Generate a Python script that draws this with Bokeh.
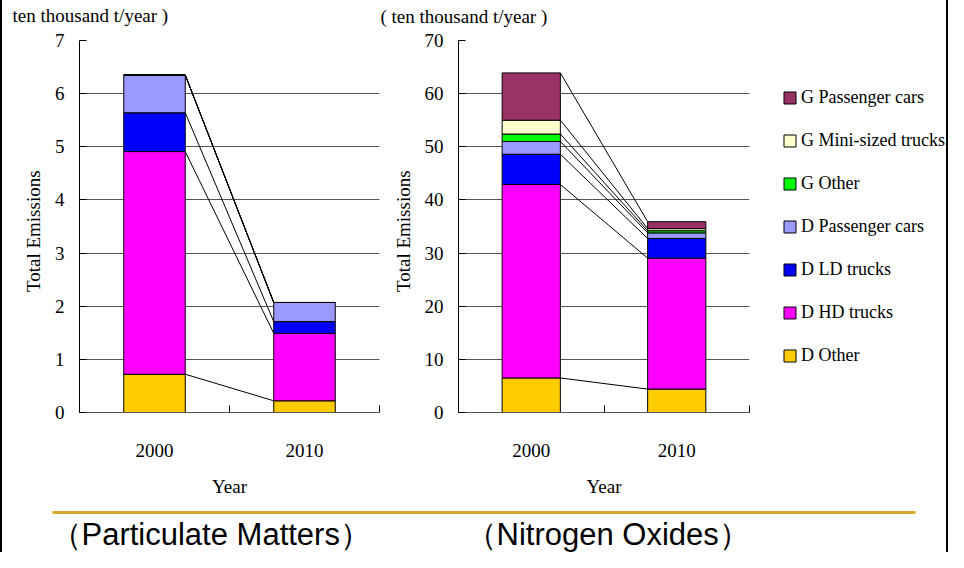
import numpy as np
from bokeh.plotting import figure
from bokeh.models import (Range1d, FixedTicker, Label, Legend, LegendItem,
                          BoxAnnotation, ColumnDataSource)
from bokeh.layouts import row, column
from bokeh.embed import file_html
from bokeh.resources import INLINE

# ---------------- data ----------------
years = ["2000", "2010"]
series = ["D Other", "D HD trucks", "D LD trucks", "D Passenger cars",
          "G Other", "G Mini-sized trucks", "G Passenger cars"]
colors = ["#FFCC00", "#FF00FF", "#0000FF", "#9999FF",
          "#00FF00", "#FFFFCC", "#993366"]

pm_2000 = [0.72, 4.19, 0.73, 0.71, 0.0, 0.0, 0.0]
pm_2010 = [0.22, 1.27, 0.22, 0.36, 0.0, 0.0, 0.0]
nox_2000 = [6.5, 36.4, 5.7, 2.4, 1.4, 2.6, 8.9]
nox_2010 = [4.4, 24.65, 3.7, 1.05, 0.4, 0.4, 1.3]

pm_ticks = [0, 1, 2, 3, 4, 5, 6, 7]
nox_ticks = [0, 10, 20, 30, 40, 50, 60, 70]

unit_left = "ten thousand t/year )"
unit_right = "( ten thousand t/year )"
y_title = "Total Emissions"
x_title = "Year"
title_pm = "（Particulate Matters）"
title_nox = "（Nitrogen Oxides）"

SERIF = "Liberation Serif"
FS = "19px"
MB_TOP, FRAME_H, MB_BOT = 10, 374, 85
CH = MB_TOP + FRAME_H + MB_BOT  # chart figure height


def blank(width, height, xmax, ymax, **kw):
    args = dict(min_border_left=0, min_border_right=0, min_border_top=0,
                min_border_bottom=0)
    args.update(kw)
    f = figure(width=width, height=height, output_backend="svg",
               toolbar_location=None, x_axis_type=None, y_axis_type=None,
               x_range=Range1d(0, xmax), y_range=Range1d(0, ymax), **args)
    f.grid.grid_line_color = None
    f.outline_line_color = None
    f.background_fill_color = "white"
    f.border_fill_color = "white"
    return f


def stack_source(v2000, v2010):
    data = {"x": [i + 0.5 for i in range(len(years))]}
    for s, a, b in zip(series, v2000, v2010):
        data[s] = [a, b]
    return ColumnDataSource(data)


def make_chart(v2000, v2010, ticks, bar_w, width, mb_left, mb_right):
    n = len(years)
    xs = [i + 0.5 for i in range(n)]
    p = figure(width=width, height=CH, output_backend="svg",
               toolbar_location=None, x_range=Range1d(0, n),
               y_range=Range1d(ticks[0], ticks[-1]),
               min_border_left=mb_left, min_border_right=mb_right,
               min_border_top=MB_TOP, min_border_bottom=MB_BOT)
    p.outline_line_color = None
    p.background_fill_color = "white"
    p.border_fill_color = "white"

    src = stack_source(v2000, v2010)
    p.vbar_stack(series, x="x", width=bar_w, source=src, color=colors,
                 line_color="black", line_width=1)

    # connecting lines between stacked tops
    c0 = np.cumsum(v2000)
    c1 = np.cumsum(v2010)
    p.segment(x0=[xs[0] + bar_w / 2] * len(series), y0=list(c0),
              x1=[xs[1] - bar_w / 2] * len(series), y1=list(c1),
              line_color="black", line_width=1)

    xa = p.xaxis[0]
    xa.ticker = FixedTicker(ticks=xs, minor_ticks=list(range(n + 1)))
    xa.major_label_overrides = {x: y for x, y in zip(xs, years)}
    xa.major_tick_line_color = None
    xa.minor_tick_in = 7
    xa.minor_tick_out = 0
    xa.minor_tick_line_color = "black"
    xa.axis_line_color = "#555555"
    xa.major_label_standoff = 25
    xa.major_label_text_font = SERIF
    xa.major_label_text_font_size = FS
    xa.major_label_text_color = "black"
    xa.axis_label = x_title
    xa.axis_label_text_font = SERIF
    xa.axis_label_text_font_size = FS
    xa.axis_label_text_font_style = "normal"
    xa.axis_label_text_color = "black"
    xa.axis_label_standoff = 16

    ya = p.yaxis[0]
    ya.ticker = FixedTicker(ticks=ticks)
    ya.major_tick_in = 7
    ya.major_tick_out = 0
    ya.minor_tick_line_color = None
    ya.axis_line_color = "black"
    ya.major_tick_line_color = "black"
    ya.major_label_standoff = 15
    ya.major_label_text_font = SERIF
    ya.major_label_text_font_size = FS
    ya.major_label_text_color = "black"
    ya.axis_label = y_title + "\u00a0" * 2
    ya.axis_label_text_font = SERIF
    ya.axis_label_text_font_size = FS
    ya.axis_label_text_font_style = "normal"
    ya.axis_label_text_color = "black"
    ya.axis_label_standoff = 8

    p.xgrid.grid_line_color = None
    p.ygrid.grid_line_color = "#555555"
    p.ygrid.grid_line_width = 1
    p.ygrid.ticker = FixedTicker(ticks=ticks)
    return p


# header strip with the unit labels
pH = blank(944, 30, 944, 30)
pH.add_layout(Label(x=10, y=15, text=unit_left, text_font=SERIF,
                    text_font_size=FS, text_color="black",
                    text_baseline="middle", text_align="left"))
pH.add_layout(Label(x=378, y=14, text=unit_right, text_font=SERIF,
                    text_font_size=FS, text_color="black",
                    text_baseline="middle", text_align="left"))

pA = make_chart(pm_2000, pm_2010, pm_ticks, 0.41, 383, 77, 6)
pB = make_chart(nox_2000, nox_2010, nox_ticks, 0.40, 370, 73, 6)

# legend panel (hidden copies of the NOx stacks feed the legend swatches)
pL = blank(191, CH, 2, 70, min_border_top=MB_TOP, min_border_bottom=MB_BOT)
rl = pL.vbar_stack(series, x="x", width=0.4,
                   source=stack_source(nox_2000, nox_2010), color=colors,
                   line_color="black", line_width=1)
for r in rl:
    r.visible = False
items = [LegendItem(label=s, renderers=[r]) for s, r in zip(series, rl)][::-1]
leg = Legend(items=items, location=(27, 46), orientation="vertical",
             glyph_width=15, glyph_height=15, label_height=21,
             spacing=22, padding=0, margin=0,
             border_line_color=None, background_fill_alpha=0,
             inactive_fill_alpha=0,
             label_text_font=SERIF, label_text_font_size="18px",
             label_text_color="black", label_standoff=4)
pL.add_layout(leg, "center")

# bottom band with golden rule and titles
pC = blank(944, 53, 944, 53)
pC.add_layout(BoxAnnotation(left=50, right=913, bottom=38.5, top=41.5,
                            fill_color="#D6A82A", fill_alpha=1,
                            line_color=None))
pC.add_layout(Label(x=48, y=18, text=title_pm, text_font="Liberation Sans",
                    text_font_size="31px", text_color="black",
                    text_baseline="middle"))
pC.add_layout(Label(x=463, y=18, text=title_nox, text_font="Liberation Sans",
                    text_font_size="31px", text_color="black",
                    text_baseline="middle"))

layout = column(pH, row(pA, pB, pL), pC,
                styles={"border-left": "2px solid black",
                        "border-right": "2px solid black"})

open("out.html", "w").write(file_html(layout, INLINE))
